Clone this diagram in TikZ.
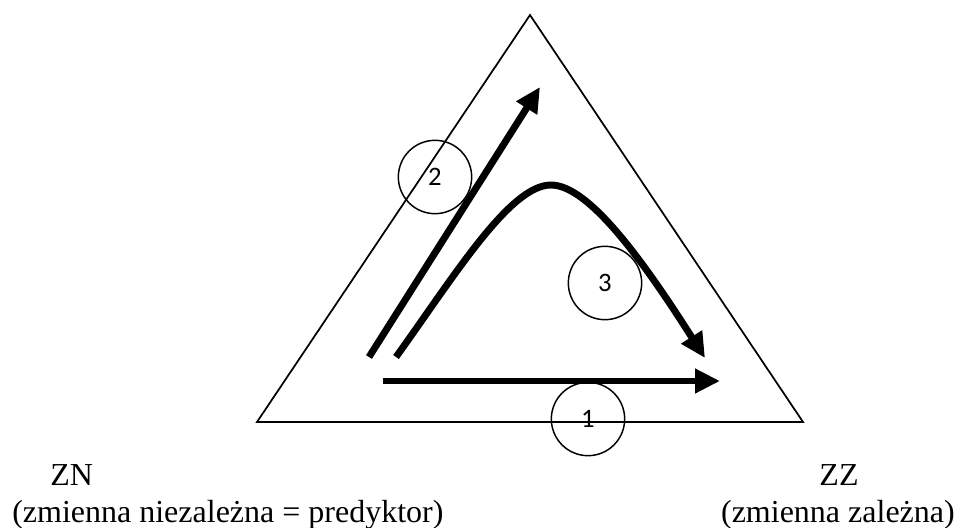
\documentclass[tikz,border=0pt]{standalone}
\usepackage{fontspec}
\setmainfont{Liberation Serif}
\newfontfamily\numfont{Carlito}
\usetikzlibrary{arrows.meta}
\begin{document}
\begin{tikzpicture}[x=0.75pt,y=-0.75pt,
  tri/.style={line width=1.3pt, line join=miter},
  bigarrow/.style={line width=5.2pt, -{Triangle[length=18.75pt,width=17.5pt]}},
  numcirc/.style={circle, draw, line width=1.1pt, minimum size=55pt, inner sep=0pt, font=\numfont\fontsize{20}{24}\selectfont},
  lbl/.style={inner sep=0pt, font=\fontsize{24}{28}\selectfont}]
\useasboundingbox (0,0) rectangle (957,528);
% triangle
\coordinate (apex) at (530,15);
\coordinate (bl) at (257,422);
\coordinate (br) at (803,422);
\draw[tri] (apex) -- (bl) -- (br) -- cycle;
% arrow 1
\coordinate (a1s) at (383,381);
\coordinate (a1e) at (720,381);
\draw[bigarrow] (a1s) -- (a1e);
% arrow 2
\coordinate (a2s) at (369,357);
\coordinate (a2e) at (540,87);
\draw[bigarrow] (a2s) -- (a2e);
% curve 3
\coordinate (c3s) at (396,357);
\coordinate (c3p) at (551,185);
\coordinate (c3e) at (705,358);
\draw[bigarrow] (c3s) .. controls (455,275) and (510,185) .. (c3p)
  .. controls (590,185) and (647,267) .. (c3e);
% numbered circles
\node[numcirc] (n2) at (435,177) {2};
\node[numcirc] (n3) at (605,283) {3};
\node[numcirc] (n1) at (588,419) {1};
% labels
\node[lbl, anchor=base west] (zn) at (50,485) {ZN};
\node[lbl, anchor=base west] (znl) at (12,522) {(zmienna niezależna = predyktor)};
\node[lbl, anchor=base] (zz) at (839,485) {ZZ};
\node[lbl, anchor=base east] (zzl) at (955,522) {(zmienna zależna)};
\end{tikzpicture}
\end{document}
